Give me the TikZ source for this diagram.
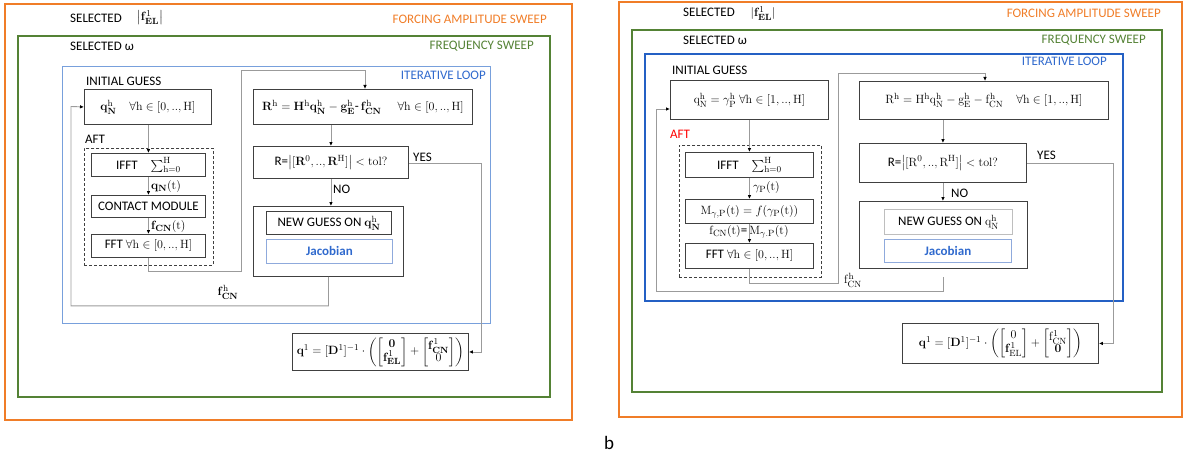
\documentclass[tikz,border=0pt]{standalone}
\usepackage{amsmath}
\usepackage[no-math]{fontspec}
\setmainfont{Carlito}
\usetikzlibrary{arrows.meta}
\definecolor{orangeF}{RGB}{240,125,40}
\definecolor{greenF}{RGB}{84,130,53}
\definecolor{blueL}{RGB}{120,160,220}
\definecolor{blueR}{RGB}{36,96,196}
\definecolor{blueT}{RGB}{47,105,205}
\definecolor{boxgray}{RGB}{64,64,64}
\definecolor{lightbox}{RGB}{190,190,190}
\definecolor{linegray}{RGB}{155,155,155}
\definecolor{jacborder}{RGB}{143,170,220}
\tikzset{
  lbl/.style={font=\fontsize{13}{15}\selectfont, inner sep=0pt},
  plainbox/.style={draw=boxgray, line width=0.9pt, inner sep=0pt, anchor=north west, font=\fontsize{13}{15}\selectfont},
  box/.style={plainbox, align=center},
  aftbox/.style={draw=boxgray, line width=0.9pt, dash pattern=on 3pt off 2pt, inner sep=0pt, anchor=north west},
  jacbox/.style={box, draw=jacborder, text=blueT, font=\fontsize{13}{15}\selectfont\bfseries},
  conn/.style={draw=linegray, line width=0.9pt},
  arr/.style={conn, -{Latex[length=4pt,width=3.6pt,color=black]}},
}
\begin{document}
\begin{tikzpicture}[x=1pt,y=-1pt]
\useasboundingbox (0,0) rectangle (1187,460);
% ================= LEFT PANEL =================
\draw[orangeF, line width=2.2pt] (5,4) rectangle (572,420);
\draw[greenF, line width=2.2pt] (18,36) rectangle (550,397);
\draw[blueL, line width=0.9pt] (62,66) rectangle (490,323);

\node[lbl, anchor=west] (selFL) at (70,18) {SELECTED};
\node[lbl] (absFL) at (150,18) {$\bigl|\mathbf{f}_{\mathbf{EL}}^{1}\bigr|$};
\node[lbl, anchor=east, text=orangeF] (fasL) at (547,19) {FORCING AMPLITUDE SWEEP};
\node[lbl, anchor=west] (selWL) at (70,46) {SELECTED ω};
\node[lbl, anchor=east, text=greenF] (fsL) at (534,46) {FREQUENCY SWEEP};
\node[lbl, anchor=east, text=blueT] (itL) at (486,75) {ITERATIVE LOOP};
\node[lbl, anchor=west] (igL) at (86,81) {INITIAL GUESS};
\node[lbl, anchor=west] (aftlL) at (85,139) {AFT};

\node[aftbox, minimum width=129pt, minimum height=117pt] (aftL) at (84,148) {};
\node[box, minimum width=127pt, minimum height=35pt] (qL) at (84,89)
  {$\mathbf{q}_{\mathbf{N}}^{\mathrm{h}}\quad \forall\mathrm{h}\in[0,..,\mathrm{H}]$};
\node[box, minimum width=114pt, minimum height=23pt] (iffL) at (91,153)
  {IFFT\quad$\sum_{\mathrm{h}=0}^{\mathrm{H}}$};
\node[box, minimum width=114pt, minimum height=22pt] (cmL) at (91,195) {CONTACT MODULE};
\node[box, minimum width=114pt, minimum height=23pt] (fftL) at (91,234)
  {FFT $\forall\mathrm{h}\in[0,..,\mathrm{H}]$};
\node[box, minimum width=219pt, minimum height=35pt] (RL) at (253,89)
  {$\mathbf{R}^{\mathrm{h}}=\mathbf{H}^{\mathrm{h}}\mathbf{q}_{\mathbf{N}}^{\mathrm{h}}-\mathbf{g}_{\mathbf{E}}^{\mathrm{h}}$-\,$\mathbf{f}_{\mathbf{CN}}^{\mathrm{h}}$\hspace{16pt}$\forall\mathrm{h}\in[0,..,\mathrm{H}]$};
\node[box, minimum width=155pt, minimum height=32pt] (tolL) at (253,146)
  {R=$\bigl|[\mathbf{R}^{0},..,\mathbf{R}^{\mathrm{H}}]\bigr|<\mathrm{tol?}$};
\node[box, minimum width=150pt, minimum height=70pt] (ngL) at (253,206) {};
\node[box, minimum width=125pt, minimum height=23pt] (ngiL) at (266,211)
  {NEW GUESS ON $\mathbf{q}_{\mathbf{N}}^{\mathrm{h}}$};
\node[jacbox, minimum width=126pt, minimum height=24pt] (jacL) at (266,239) {Jacobian};
\node[plainbox, minimum width=176pt, minimum height=37pt] (q1L) at (292,333)
  {$\renewcommand{\arraystretch}{0.78}\setlength{\arraycolsep}{2pt}\mathbf{q}^{1}=[\mathbf{D}^{1}]^{-1}\cdot\left(\begin{bmatrix}\mathbf{0}\\ \mathbf{f}^{1}_{\mathbf{EL}}\end{bmatrix}+\begin{bmatrix}\mathbf{f}^{1}_{\mathbf{CN}}\\ 0\end{bmatrix}\right)$};

\node[lbl, anchor=west] (lqtL) at (151,186) {$\mathbf{q}_{\mathbf{N}}(\mathrm{t})$};
\node[lbl, anchor=west] (lftL) at (151,226) {$\mathbf{f}_{\mathbf{CN}}(\mathrm{t})$};
\node[lbl, anchor=west] (yesL) at (413,157) {YES};
\node[lbl, anchor=west] (noL) at (333,189) {NO};
\node[lbl] (fchL) at (228,292) {$\mathbf{f}_{\mathbf{CN}}^{\mathrm{h}}$};

\coordinate (toRL) at (365,89);
\coordinate (yesTL) at (481,163);
\coordinate (fromYL) at (tolL.east |- yesTL);

\draw[arr] (qL.south -| iffL.north) -- (iffL.north);
\draw[arr] (iffL.south) -- (cmL.north);
\draw[arr] (cmL.south) -- (fftL.north);
\draw[arr] (fftL.south) -- ++(0,14) -| (241,70) -| (toRL);
\draw[arr] (RL.south -| tolL.north) -- (tolL.north);
\draw[arr] (tolL.south) -- (tolL.south |- ngL.north);
\draw[arr] (fromYL) -- (yesTL) |- (q1L.east);
\draw[arr] (ngL.south) -- ++(0,29) -| (71,106.5) -- (qL.west);

% ================= RIGHT PANEL =================
\draw[orangeF, line width=2.2pt] (619,2) rectangle (1182,417);
\draw[greenF, line width=2.2pt] (632,30) rectangle (1162,392);
\draw[blueR, line width=2.4pt] (645,54) rectangle (1123,301);

\node[lbl, anchor=west] (selFR) at (683,12) {SELECTED};
\node[lbl] (absFR) at (763,13.5) {$|\mathbf{f}_{\mathbf{EL}}^{1}|$};
\node[lbl, anchor=east, text=orangeF] (fasR) at (1161,13) {FORCING AMPLITUDE SWEEP};
\node[lbl, anchor=west] (selWR) at (683,40) {SELECTED ω};
\node[lbl, anchor=east, text=greenF] (fsR) at (1146,40) {FREQUENCY SWEEP};
\node[lbl, anchor=east, text=blueT] (itR) at (1107,61) {ITERATIVE LOOP};
\node[lbl, anchor=west] (igR) at (672,70) {INITIAL GUESS};
\node[lbl, anchor=west, text=red] (aftlR) at (670,134) {AFT};

\node[aftbox, minimum width=142pt, minimum height=132pt] (aftR) at (679,145) {};
\node[box, minimum width=158pt, minimum height=39pt] (qR) at (670,80)
  {$\mathrm{q}_{\mathrm{N}}^{\mathrm{h}}=\gamma_{\mathrm{P}}^{\mathrm{h}}\ \forall\mathrm{h}\in[1,..,\mathrm{H}]$};
\node[box, minimum width=128pt, minimum height=25pt] (iffR) at (685,152)
  {IFFT\quad$\sum_{\mathrm{h}=0}^{\mathrm{H}}$};
\node[box, minimum width=128pt, minimum height=24pt] (mR) at (685,199)
  {$\mathrm{M}_{\gamma,\mathrm{P}}(\mathrm{t})=f(\gamma_{\mathrm{P}}(\mathrm{t}))$};
\node[box, minimum width=128pt, minimum height=25pt] (fftR) at (685,243)
  {FFT $\forall\mathrm{h}\in[0,..,\mathrm{H}]$};
\node[box, minimum width=249pt, minimum height=38pt] (RR) at (859,81)
  {$\mathrm{R}^{\mathrm{h}}=\mathrm{H}^{\mathrm{h}}\mathrm{q}_{\mathrm{N}}^{\mathrm{h}}-\mathrm{g}_{\mathrm{E}}^{\mathrm{h}}-\mathrm{f}_{\mathrm{CN}}^{\mathrm{h}}\quad\forall\mathrm{h}\in[1,..,\mathrm{H}]$};
\node[box, minimum width=167pt, minimum height=39pt] (tolR) at (859,143)
  {R=$\bigl|[\mathrm{R}^{0},..,\mathrm{R}^{\mathrm{H}}]\bigr|<\mathrm{tol?}$};
\node[box, minimum width=168pt, minimum height=67pt] (ngR) at (859,201) {};
\node[box, draw=lightbox, minimum width=128pt, minimum height=25pt] (ngiR) at (884,209)
  {NEW GUESS ON $\mathrm{q}_{\mathrm{N}}^{\mathrm{h}}$};
\node[jacbox, minimum width=127pt, minimum height=23pt] (jacR) at (884,239) {Jacobian};
\node[plainbox, minimum width=196pt, minimum height=40pt] (q1R) at (902,323)
  {$\renewcommand{\arraystretch}{0.78}\setlength{\arraycolsep}{2pt}\mathbf{q}^{1}=[\mathbf{D}^{1}]^{-1}\cdot\left(\begin{bmatrix}0\\ \mathbf{f}^{1}_{\mathrm{EL}}\end{bmatrix}+\begin{bmatrix}\mathrm{f}^{1}_{\mathrm{CN}}\\ \mathbf{0}\end{bmatrix}\right)$};

\node[lbl, anchor=west] (lgR) at (753,187) {$\gamma_{\mathrm{P}}(\mathrm{t})$};
\node[lbl] (lfR) at (749,232) {$\mathrm{f}_{\mathrm{CN}}(\mathrm{t})$=\,$\mathrm{M}_{\gamma.\mathrm{P}}(\mathrm{t})$};
\node[lbl, anchor=west] (yesR) at (1037,155) {YES};
\node[lbl, anchor=west] (noR) at (951,193) {NO};
\node[lbl] (fchR) at (853,280) {$\mathrm{f}_{\mathrm{CN}}^{\mathrm{h}}$};

\coordinate (toRR) at (985,81);
\coordinate (yesTR) at (1113,163);
\coordinate (fromYR) at (tolR.east |- yesTR);
\coordinate (loopR) at (943,277);
\coordinate (qinR) at (670,109);

\draw[arr] (qR.south) -- (iffR.north);
\draw[arr] (iffR.south) -- (mR.north);
\draw[arr] (mR.south) -- (fftR.north);
\draw[arr] (fftR.south) -- ++(0,15) -| (838,73) -| (toRR);
\draw[arr] (RR.south -| tolR.north) -- (tolR.north);
\draw[arr] (tolR.south) -- (tolR.south |- ngR.north);
\draw[arr] (fromYR) -- (yesTR) |- (q1R.east);
\draw[arr] (loopR) -- ++(0,14) -| (656,109) -- (qinR);

\node[font=\fontsize{19}{21}\selectfont, inner sep=0pt] (bl) at (609,443) {b};
\end{tikzpicture}
\end{document}
